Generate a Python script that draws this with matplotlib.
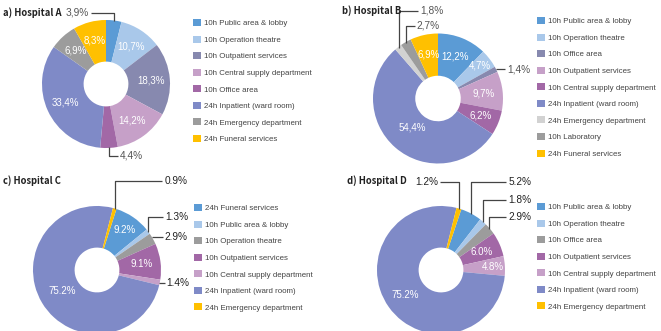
import numpy as np
import matplotlib
matplotlib.use("Agg")
import matplotlib.pyplot as plt

W, H = 661, 331
TITLEFONT = ['Noto Sans CJK KR', 'Liberation Sans', 'DejaVu Sans']
SANS = ['Liberation Sans', 'DejaVu Sans']

# ---------------- data ----------------
titles = ["a) Hospital A", "b) Hospital B", "c) Hospital C", "d) Hospital D"]

legend_a = ["10h Public area & lobby", "10h Operation theatre", "10h Outpatient services",
            "10h Central supply department", "10h Office area", "24h Inpatient (ward room)",
            "24h Emergency department", "24h Funeral services"]
values_a = [3.9, 10.7, 18.3, 14.2, 4.4, 33.4, 6.9, 8.3]
labels_a = ["3,9%", "10,7%", "18,3%", "14,2%", "4,4%", "33,4%", "6,9%", "8,3%"]

legend_b = ["10h Public area & lobby", "10h Operation theatre", "10h Office area",
            "10h Outpatient services", "10h Central supply department", "24h Inpatient (ward room)",
            "24h Emergency department", "10h Laboratory", "24h Funeral services"]
values_b = [12.2, 4.7, 1.4, 9.7, 6.2, 54.4, 1.8, 2.7, 6.9]
labels_b = ["12,2%", "4,7%", "1,4%", "9,7%", "6,2%", "54,4%", "1,8%", "2,7%", "6,9%"]

legend_c = ["24h Funeral services", "10h Public area & lobby", "10h Operation theatre",
            "10h Outpatient services", "10h Central supply department", "24h Inpatient (ward room)",
            "24h Emergency department"]
values_c = [9.2, 1.3, 2.9, 9.1, 1.4, 75.2, 0.9]
labels_c = ["9.2%", "1.3%", "2.9%", "9.1%", "1.4%", "75.2%", "0.9%"]

legend_d = ["10h Public area & lobby", "10h Operation theatre", "10h Office area",
            "10h Outpatient services", "10h Central supply department", "24h Inpatient (ward room)",
            "24h Emergency department"]
values_d = [5.2, 1.8, 2.9, 6.0, 4.8, 75.2, 1.2]
labels_d = ["5.2%", "1.8%", "2.9%", "6.0%", "4.8%", "75.2%", "1.2%"]

# ---------------- styles ----------------
BLUE, LBLUE, SLATE, PINK, PURPLE, PERI, GRAY, LGRAY, YELLOW = (
    "#5B9BD5", "#A9C8EA", "#8789AF", "#C6A0C8", "#A268A6", "#7F8AC7", "#9C9C9C", "#D2D2D2", "#FFC000")
colors_a = [BLUE, LBLUE, SLATE, PINK, PURPLE, PERI, GRAY, YELLOW]
colors_b = [BLUE, LBLUE, SLATE, PINK, PURPLE, PERI, LGRAY, GRAY, YELLOW]
colors_c = [BLUE, LBLUE, GRAY, PURPLE, PINK, PERI, YELLOW]
colors_d = [BLUE, LBLUE, GRAY, PURPLE, PINK, PERI, YELLOW]

panels = [
    dict(title=titles[0], vals=values_a, labs=labels_a, leg=legend_a, cols=colors_a,
         c=(106, 84), R=64, start=90, title_xy=(3, 13), leg_xy=(193, 19),
         rin={}, out={0: (-0.27, 1.11, 'right'), 4: (0.22, -1.125, 'left')},
         outcol='#555555'),
    dict(title=titles[1], vals=values_b, labs=labels_b, leg=legend_b, cols=colors_b,
         c=(438, 98.5), R=65, start=90, title_xy=(342, 11), leg_xy=(537, 17),
         rin={1: 0.82, 5: 0.6},
         out={2: (1.06, 0.45, 'left'), 6: (-0.28, 1.35, 'left'), 7: (-0.33, 1.12, 'left')},
         outcol='#555555'),
    dict(title=titles[2], vals=values_c, labs=labels_c, leg=legend_c, cols=colors_c,
         c=(97, 270), R=64, start=72.3, title_xy=(3, 181), leg_xy=(194, 204),
         rin={0: 0.76, 5: 0.63},
         out={6: (1.05, 1.39, 'left'), 1: (1.06, 0.83, 'left'), 2: (1.06, 0.52, 'left'),
              4: (1.09, -0.2, 'left')},
         outcol='#222222'),
    dict(title=titles[3], vals=values_d, labs=labels_d, leg=legend_d, cols=colors_d,
         c=(441, 270), R=64, start=71.5, title_xy=(347, 181), leg_xy=(537, 203),
         rin={4: 0.81, 5: 0.68},
         out={6: (-0.05, 1.375, 'right'), 0: (1.05, 1.375, 'left'), 1: (1.05, 1.09, 'left'),
              2: (1.05, 0.83, 'left')},
         outcol='#222222'),
]

fig = plt.figure(figsize=(W / 100, H / 100), dpi=100)
fig.patch.set_facecolor('white')

for p in panels:
    cx, cy = p['c']
    R = p['R']
    ax = fig.add_axes([(cx - R) / W, (H - cy - R) / H, 2 * R / W, 2 * R / H])
    wedges, _ = ax.pie(p['vals'], colors=p['cols'], startangle=p['start'], counterclock=False,
                       radius=1.0, wedgeprops=dict(width=0.65, linewidth=0))
    ax.set_aspect('auto')
    ax.set_xlim(-1, 1)
    ax.set_ylim(-1, 1)
    ax.axis('off')
    for i, (w, lab) in enumerate(zip(wedges, p['labs'])):
        mid = np.deg2rad((w.theta1 + w.theta2) / 2)
        if i in p['out']:
            tx, ty, ha = p['out'][i]
            x0, y0 = 0.99 * np.cos(mid), 0.99 * np.sin(mid)
            gap = 0.03 if ha == 'left' else -0.03
            if abs(ty - y0) > 0.04:
                xs, ys = [x0, x0, tx - gap], [y0, ty, ty]
            else:
                xs, ys = [x0, tx - gap], [ty, ty]
            ax.plot(xs, ys, color='#444444', lw=0.9, clip_on=False, solid_capstyle='butt')
            ax.text(tx, ty, lab, ha=ha, va='center', fontsize=7.3, color=p['outcol'],
                    family=SANS)
        else:
            r = p['rin'].get(i, 0.7)
            ax.text(r * np.cos(mid), r * np.sin(mid), lab, ha='center', va='center',
                    fontsize=7, color='white', family=SANS)
    tx, ty = p['title_xy']
    fig.text(tx / W, 1 - ty / H, p['title'], ha='left', va='center', fontsize=6.8,
             fontweight='bold', family=TITLEFONT, color='#222222')
    lx, ly = p['leg_xy']
    leg = ax.legend(wedges, p['leg'], loc='upper left', bbox_to_anchor=(lx / W, 1 - ly / H),
                    bbox_transform=fig.transFigure, frameon=False,
                    prop=dict(family=SANS, size=5.7),
                    handlelength=1.0, handleheight=1.0, handletextpad=0.4,
                    labelspacing=1.05, borderpad=0, borderaxespad=0)
    for t in leg.get_texts():
        t.set_color('#444444')

fig.savefig('out.png', dpi=100, facecolor='white')
